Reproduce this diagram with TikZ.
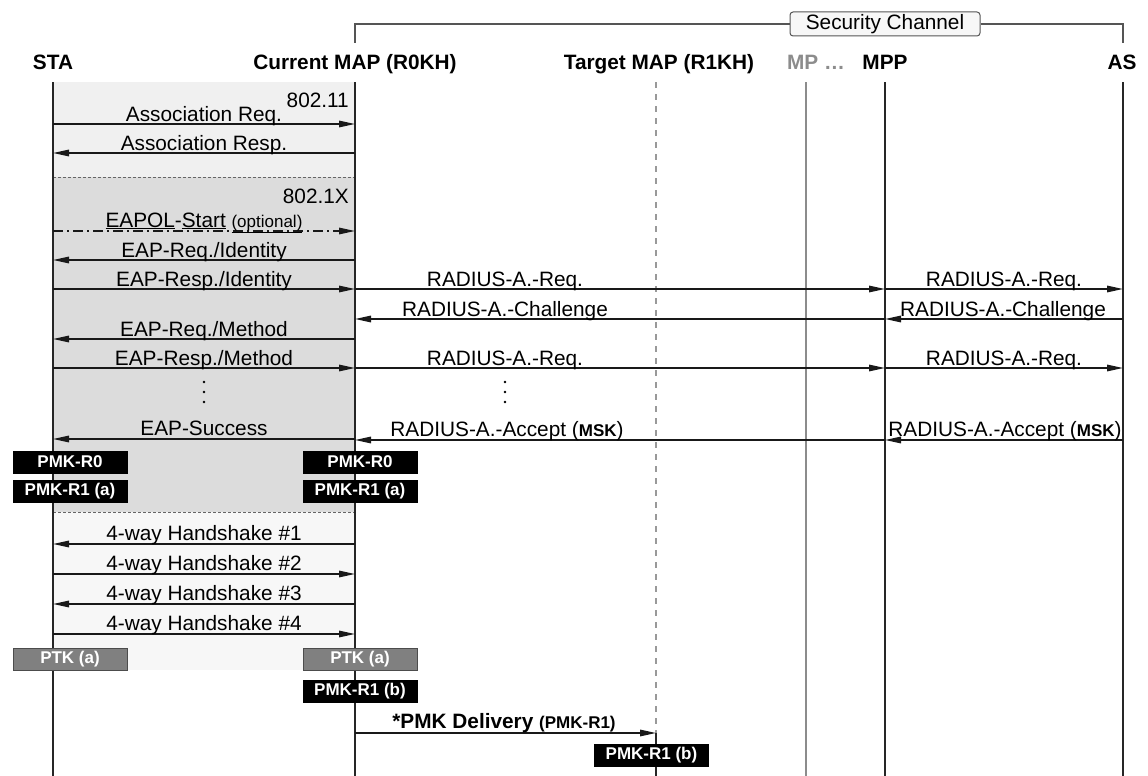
\documentclass[tikz,border=0pt]{standalone}
\usepackage{fontspec}
\setmainfont{Liberation Sans}
\usetikzlibrary{arrows.meta}
\definecolor{regA}{HTML}{F0F0F0}
\definecolor{regB}{HTML}{DCDCDC}
\definecolor{regC}{HTML}{F7F7F7}
\definecolor{secgray}{HTML}{555555}
\definecolor{ptkgray}{HTML}{808080}
\definecolor{mpgray}{HTML}{8C8C8C}
\definecolor{tgtgray}{HTML}{999999}
\tikzset{
  lbl/.style={font=\fontsize{20.8}{24}\selectfont, inner sep=0pt, anchor=base},
  hdr/.style={font=\fontsize{20.8}{24}\selectfont\bfseries, inner sep=0pt, anchor=base},
  msg/.style={line width=1.6pt, draw=black!90, -{Triangle[length=16pt,width=6.5pt]}},
  life/.style={line width=1.6pt, draw=black!85},
  keybox/.style={fill=black, draw=black, text=white, font=\fontsize{17}{20}\selectfont\bfseries,
    minimum width=114pt, minimum height=22pt, inner sep=0pt},
  ptkbox/.style={keybox, fill=ptkgray, draw=black!70, line width=1pt},
  sepline/.style={draw=black!60, line width=1pt, dash pattern=on 3pt off 2pt},
  secline/.style={draw=secgray, line width=1.2pt},
  secbox/.style={draw=secgray, line width=1pt, fill=white!97!black, rounded corners=3pt,
    minimum width=190pt, minimum height=24pt, inner sep=0pt, font=\fontsize{20.8}{24}\selectfont},
  vdot/.style={fill=black, circle, inner sep=0pt, minimum size=2.8pt}
}
\newcommand{\sml}[1]{{\fontsize{17}{20}\selectfont #1}}
\begin{document}
\begin{tikzpicture}[x=1pt,y=-1pt]
\useasboundingbox (0,0) rectangle (1148,776);

% lifeline anchors
\coordinate (sta) at (53,82);
\coordinate (cur) at (355,82);
\coordinate (tgt) at (656,82);
\coordinate (mp) at (806,82);
\coordinate (mpp) at (885,82);
\coordinate (as) at (1123,82);

% regions
\fill[regA] (sta |- 0,82) rectangle (cur |- 0,177);
\fill[regB] (sta |- 0,177) rectangle (cur |- 0,512);
\fill[regC] (sta |- 0,512) rectangle (cur |- 0,670);
\draw[sepline] (sta |- 0,177) -- (cur |- 0,177);
\draw[sepline] (sta |- 0,512) -- (cur |- 0,512);
\node[lbl, anchor=base east] (l80211) at (349,107) {802.11};
\node[lbl, anchor=base east] (l8021x) at (349,203) {802.1X};

% security channel
\node[secbox] (sec) at (885,24) {Security Channel};
\draw[secline] (cur |- 0,43) -- (cur |- sec.center) -- (sec.west);
\draw[secline] (sec.east) -- (as |- sec.center) -- (as |- 0,43);

% headers
\node[hdr] (hsta) at (53,70) {STA};
\node[hdr] (hcur) at (355,70) {Current MAP (R0KH)};
\node[hdr] (htgt) at (659,70) {Target MAP (R1KH)};
\node[hdr, text=mpgray] (hmp) at (816,70) {MP …};
\node[hdr] (hmpp) at (885,70) {MPP};
\node[hdr] (has) at (1122,70) {AS};

% lifelines
\draw[life] (sta) -- (sta |- 0,776);
\draw[life] (cur) -- (cur |- 0,776);
\draw[line width=1.2pt, draw=tgtgray, dash pattern=on 6pt off 6pt] (tgt) -- (tgt |- 0,733);
\draw[life] (tgt |- 0,733) -- (tgt |- 0,776);
\draw[line width=1.4pt, draw=mpgray] (mp) -- (mp |- 0,776);
\draw[life] (mpp) -- (mpp |- 0,776);
\draw[life] (as) -- (as |- 0,776);

% 802.11
\draw[msg] (sta |- 0,124) -- (cur |- 0,124);
\node[lbl] (m1) at (204,121) {Association Req.};
\draw[msg] (cur |- 0,153) -- (sta |- 0,153);
\node[lbl] (m2) at (204,150) {Association Resp.};

% 802.1X
\draw[msg, dash pattern=on 10pt off 4pt on 2pt off 4pt] (sta |- 0,231) -- (cur |- 0,231);
\node[lbl] (m3) at (204,227) {\underline{EAPOL}-\underline{Start} \sml{\underline{(optional)}}};
\draw[msg] (cur |- 0,260) -- (sta |- 0,260);
\node[lbl] (m4) at (204,257) {EAP-Req./Identity};
\draw[msg] (sta |- 0,289) -- (cur |- 0,289);
\node[lbl] (m5) at (204,286) {EAP-Resp./Identity};
\draw[msg] (cur |- 0,289) -- (mpp |- 0,289);
\node[lbl] (r1) at (505,286) {RADIUS-A.-Req.};
\draw[msg] (mpp |- 0,289) -- (as |- 0,289);
\node[lbl] (r1b) at (1004,286) {RADIUS-A.-Req.};
\draw[msg] (as |- 0,319) -- (mpp |- 0,319);
\node[lbl] (r2b) at (1003,316) {RADIUS-A.-Challenge};
\draw[msg] (mpp |- 0,319) -- (cur |- 0,319);
\node[lbl] (r2) at (505,316) {RADIUS-A.-Challenge};
\draw[msg] (cur |- 0,339) -- (sta |- 0,339);
\node[lbl] (m6) at (204,336) {EAP-Req./Method};
\draw[msg] (sta |- 0,368) -- (cur |- 0,368);
\node[lbl] (m7) at (204,365) {EAP-Resp./Method};
\draw[msg] (cur |- 0,368) -- (mpp |- 0,368);
\node[lbl] (r3) at (505,365) {RADIUS-A.-Req.};
\draw[msg] (mpp |- 0,368) -- (as |- 0,368);
\node[lbl] (r3b) at (1004,365) {RADIUS-A.-Req.};
\foreach \d in {382,392,402} {
  \node[vdot] at (204,\d) {};
  \node[vdot] at (505,\d) {};
}
\draw[msg] (cur |- 0,439) -- (sta |- 0,439);
\node[lbl] (m8) at (204,435) {EAP-Success};
\draw[msg] (as |- 0,440) -- (mpp |- 0,440);
\node[lbl] (r4b) at (1005,436) {RADIUS-A.-Accept (\sml{\bfseries MSK})};
\draw[msg] (mpp |- 0,440) -- (cur |- 0,440);
\node[lbl] (r4) at (507,436) {RADIUS-A.-Accept (\sml{\bfseries MSK})};

% keys
\node[keybox] (k0l) at (70,462) {PMK-R0};
\node[keybox] (k0r) at (360,462) {PMK-R0};
\node[keybox] (k1l) at (70,491.5) {PMK-R1 (a)};
\node[keybox] (k1r) at (360,491.5) {PMK-R1 (a)};

% 4-way handshake
\draw[msg] (cur |- 0,544) -- (sta |- 0,544);
\node[lbl] (h1) at (204,540) {4-way Handshake \#1};
\draw[msg] (sta |- 0,574) -- (cur |- 0,574);
\node[lbl] (h2) at (204,570) {4-way Handshake \#2};
\draw[msg] (cur |- 0,604) -- (sta |- 0,604);
\node[lbl] (h3) at (204,600) {4-way Handshake \#3};
\draw[msg] (sta |- 0,634) -- (cur |- 0,634);
\node[lbl] (h4) at (204,630) {4-way Handshake \#4};

\node[ptkbox] (ptkl) at (70,659) {PTK (a)};
\node[ptkbox] (ptkr) at (360,659) {PTK (a)};
\node[keybox] (k1br) at (360,691.5) {PMK-R1 (b)};

% PMK delivery
\draw[msg] (cur |- 0,733) -- (tgt |- 0,733);
\node[lbl, font=\fontsize{20.8}{24}\selectfont\bfseries] (pd) at (504,728) {*PMK Delivery \sml{(PMK-R1)}};
\node[keybox] (k1bt) at (651.5,755.5) {PMK-R1 (b)};
\end{tikzpicture}
\end{document}
